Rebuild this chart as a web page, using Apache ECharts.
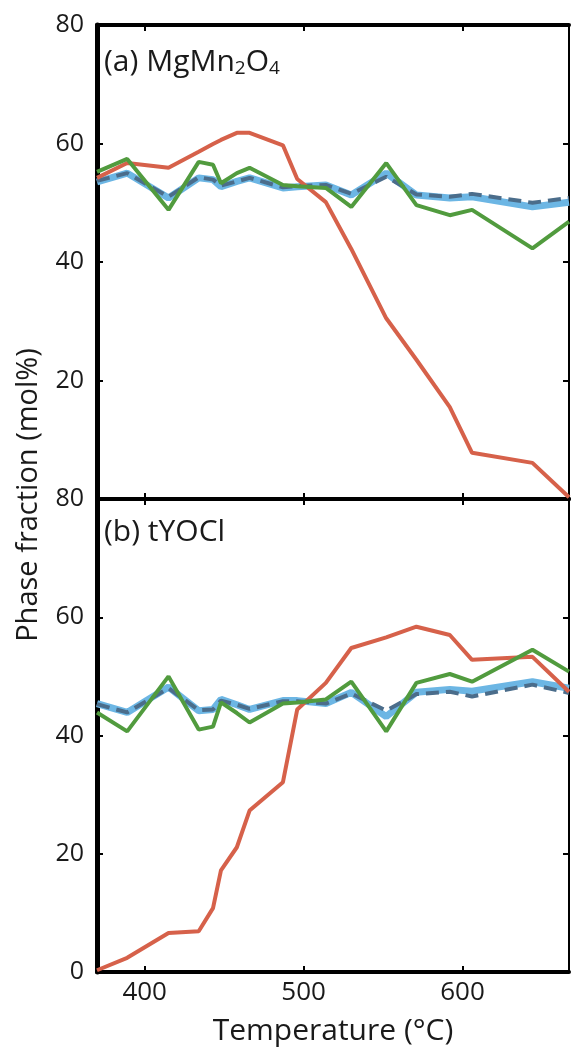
<!DOCTYPE html>
<html>
<head>
<meta charset="utf-8">
<script src="https://cdn.jsdelivr.net/npm/echarts@6/dist/echarts.min.js"></script>
<style>
  html, body { margin: 0; padding: 0; background: #fff; }
  #chart { width: 571px; height: 1053px; }
</style>
</head>
<body>
<div id="chart"></div>
<script>
// Temperatures (°C) of the measurements
const temps = [370, 389, 415, 434, 443, 448, 458, 466, 487, 496, 514, 530, 552, 571, 592, 606, 644, 667];

// (a) MgMn2O4 phase fractions (mol%)
const redA   = [54.2, 56.7, 55.9, 58.6, 59.9, 60.6, 61.8, 61.8, 59.7, 54.0, 50.1, 42.2, 30.5, 23.5, 15.5, 7.8, 6.1, 0.3];
const greenA = [55.2, 57.4, 48.8, 56.9, 56.4, 53.3, 55.0, 55.9, 53.0, 52.8, 52.5, 49.3, 56.7, 49.6, 47.9, 48.8, 42.3, 46.8];
const blueA  = [53.5, 55.0, 50.8, 54.2, 53.9, 52.7, 53.6, 54.2, 52.5, 52.7, 53.0, 51.3, 55.0, 51.3, 50.8, 51.0, 49.3, 50.1];
const dashA  = [53.7, 55.0, 51.0, 54.3, 53.9, 52.9, 53.6, 54.2, 52.6, 52.8, 53.0, 51.5, 54.4, 51.4, 51.0, 51.5, 50.0, 50.8];

// (b) tYOCl phase fractions (mol%)
const redB   = [0.3, 2.4, 6.6, 6.9, 10.8, 17.2, 21.1, 27.3, 32.1, 44.4, 48.9, 54.8, 56.6, 58.4, 57.0, 52.8, 53.3, 47.4];
const greenB = [43.9, 40.7, 50.0, 41.0, 41.5, 45.6, 43.8, 42.2, 45.4, 45.6, 46.1, 49.1, 40.7, 48.9, 50.4, 49.1, 54.5, 50.8];
const blueB  = [45.4, 43.9, 48.2, 44.2, 44.4, 46.1, 45.2, 44.4, 45.9, 45.9, 45.4, 47.3, 43.2, 47.3, 47.8, 47.5, 49.1, 48.0];
const dashB  = [45.3, 43.9, 48.0, 44.3, 44.4, 45.9, 45.2, 44.5, 45.8, 45.8, 45.4, 47.1, 44.2, 47.0, 47.4, 46.6, 48.6, 47.2];

// Axis ticks
const xTicks = [400, 500, 600];
const yTicks = [0, 20, 40, 60, 80];

const FONT = 'Open Sans';
const INK = '#1a1a1a';
const C_RED = '#d6614a';
const C_GREEN = '#519b3e';
const C_LBLUE = '#6cb6e4';
const C_DASH = '#4b6d8b';

const pairs = arr => temps.map((t, i) => [t, arr[i]]);

const grids = [
  { left: 97, top: 25, width: 472, height: 474 },
  { left: 97, top: 499, width: 472, height: 473 }
];

function xAxisFor(gi, pos, showLabels, lw) {
  return {
    type: 'value', gridIndex: gi, position: pos, min: 370, max: 667,
    axisLine: { show: true, onZero: false, lineStyle: { color: '#000', width: lw } },
    axisTick: { show: true, inside: true, length: 6, customValues: xTicks, lineStyle: { color: '#000', width: 2 } },
    axisLabel: { show: showLabels, customValues: xTicks, color: INK, fontSize: 26, fontFamily: FONT, margin: 8 },
    splitLine: { show: false },
    name: showLabels ? 'Temperature (°C)' : '',
    nameLocation: 'middle', nameGap: 44,
    nameTextStyle: { color: INK, fontSize: 30, fontFamily: FONT }
  };
}

function yAxisFor(gi, pos, showLabels, lw, hideZero) {
  return {
    type: 'value', gridIndex: gi, position: pos, min: 0, max: 80, interval: 20,
    axisLine: { show: true, onZero: false, lineStyle: { color: '#000', width: lw } },
    axisTick: { show: true, inside: true, length: 6, lineStyle: { color: '#000', width: 2 } },
    axisLabel: {
      show: showLabels, color: INK, fontSize: 25, fontFamily: FONT, margin: 13,
      customValues: yTicks,
      formatter: v => (hideZero && v === 0) ? '' : String(v)
    },
    splitLine: { show: false }
  };
}

function panelSeries(xi, yi, red, green, blue, dash) {
  const base = { type: 'line', xAxisIndex: xi, yAxisIndex: yi, symbol: 'none', smooth: false, clip: true, silent: true };
  return [
    Object.assign({}, base, { data: pairs(blue), lineStyle: { color: C_LBLUE, width: 7 }, z: 2 }),
    Object.assign({}, base, { data: pairs(dash), lineStyle: { color: C_DASH, width: 4, type: [13, 7] }, z: 3 }),
    Object.assign({}, base, { data: pairs(red), lineStyle: { color: C_RED, width: 4 }, z: 4 }),
    Object.assign({}, base, { data: pairs(green), lineStyle: { color: C_GREEN, width: 4 }, z: 5 })
  ];
}

const chart = echarts.init(document.getElementById('chart'), null, { renderer: 'canvas' });

chart.setOption({
  animation: false,
  backgroundColor: '#fff',
  grid: grids,
  xAxis: [
    xAxisFor(0, 'bottom', false, 4), xAxisFor(0, 'top', false, 4),
    xAxisFor(1, 'bottom', true, 4), xAxisFor(1, 'top', false, 4)
  ],
  yAxis: [
    yAxisFor(0, 'left', true, 5, true), yAxisFor(0, 'right', false, 2, false),
    yAxisFor(1, 'left', true, 5, false), yAxisFor(1, 'right', false, 2, false)
  ],
  series: [
    ...panelSeries(0, 0, redA, greenA, blueA, dashA),
    ...panelSeries(2, 2, redB, greenB, blueB, dashB)
  ],
  graphic: [
    {
      type: 'text', left: 104, top: 47, z: 10,
      style: {
        text: '(a) MgMn{sub|2}O{sub|4}',
        fill: INK, font: '30px "' + FONT + '"',
        rich: { sub: { fontSize: 19, fontFamily: FONT, fill: INK, verticalAlign: 'bottom', padding: [14, 0, 0, 0] } }
      }
    },
    {
      type: 'text', left: 104, top: 517, z: 10,
      style: { text: '(b) tYOCl', fill: INK, font: '30px "' + FONT + '"' }
    },
    {
      type: 'text', x: 29, y: 495, rotation: Math.PI / 2, z: 10,
      style: { text: 'Phase fraction (mol%)', fill: INK, font: '29px "' + FONT + '"', align: 'center', verticalAlign: 'middle' }
    }
  ]
});
</script>
</body>
</html>
